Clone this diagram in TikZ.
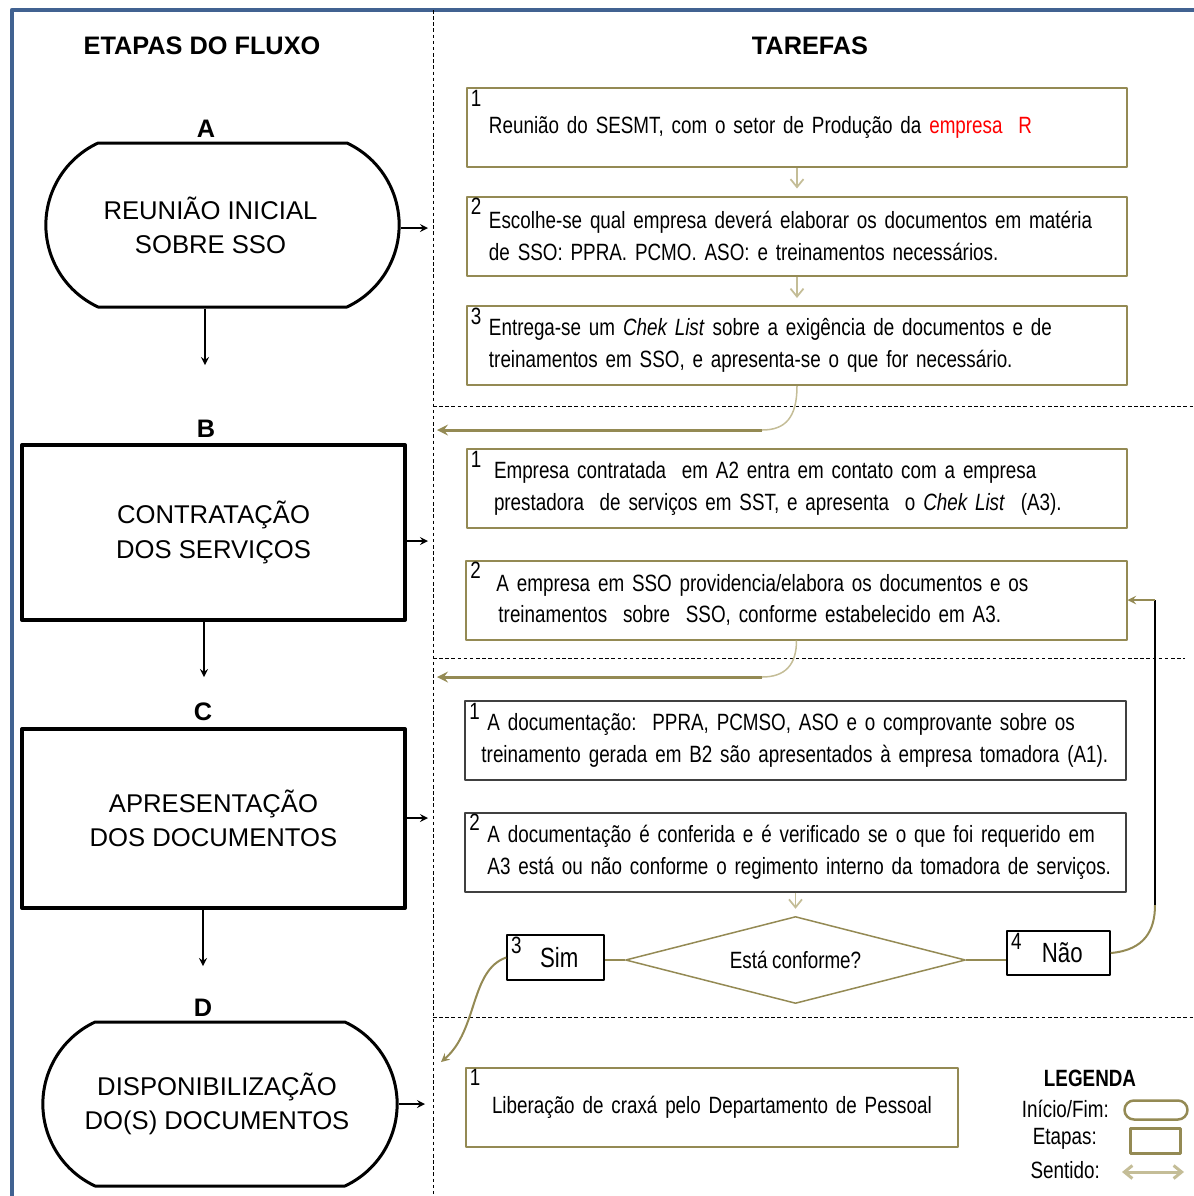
\documentclass[tikz,border=0pt]{standalone}
\usepackage{fontspec}
\setmainfont{Liberation Sans}
\newfontfamily\estreita[FakeStretch=0.8]{Liberation Sans}
\usetikzlibrary{shapes.geometric,shapes.misc,arrows.meta}
\definecolor{oliva}{RGB}{148,138,84}
\definecolor{caqui}{RGB}{196,189,151}
\definecolor{moldura}{RGB}{65,98,145}
\newcommand\fontetarefa{\estreita\fontsize{13.4}{18}\selectfont\fontdimen2\font=0.2em\relax}
\newcommand\fonteetapa{\fontsize{14.6}{19.5}\selectfont}
\newcommand\fontetitulo{\bfseries\fontsize{14.4}{17}\selectfont}

\begin{document}
\begin{tikzpicture}[x=0.2mm,y=-0.2mm,>=stealth,line join=round,
  titulo/.style={font=\fontetitulo},
  etapa/.style={draw,line width=0.8mm,minimum width=76.6mm,align=center,font=\fonteetapa},
  inicio/.style={draw,line width=0.6mm,rounded rectangle,rounded rectangle arc length=130,
    minimum width=73mm,minimum height=32.8mm,align=center,font=\fonteetapa},
  tarefa/.style={draw=oliva,line width=0.4mm,minimum height=15.8mm,inner xsep=4.4mm,
    text width=123.2mm,align=left,font=\fontetarefa},
  numero/.style={anchor=north west,inner xsep=0.9mm,inner ysep=0.5mm,font=\fontetarefa},
  passo/.style={caqui,line width=0.35mm,-{Straight Barb[length=1.6mm,width=2.6mm]},shorten >=1.4mm},
  volta/.style={oliva,line width=0.6mm,->},
  curva/.style={caqui,line width=0.3mm},
  seta/.style={line width=0.35mm,->},
  escolha/.style={draw,line width=0.3mm,font=\estreita\fontsize{15.8}{18}\selectfont}]
\useasboundingbox (0,0) rectangle (1194,1196);
% moldura e divisoes
\draw[moldura,line width=0.9mm] (12,1196) -- (12,10) -- (1194,10);
\draw[line width=0.2mm,dash pattern=on 2pt off 1.5pt] (433,10) -- (433,1196);
\foreach \y/\xf in {406/1194,658/1185,1017/1194}
  \draw[line width=0.2mm,dash pattern=on 2pt off 1.5pt] (433,\y) -- (\xf,\y);

\node[titulo] (tetapas) at (202,46) {ETAPAS DO FLUXO};
\node[titulo] (ttarefas) at (810,46) {TAREFAS};

% etapas
\node[titulo] (lA) at (206,129) {A};
\node[inicio] (A) at (222.5,225) {REUNIÃO INICIAL\hspace*{4.8mm}\\SOBRE SSO\hspace*{4.8mm}};
\node[titulo] (lB) at (206,429) {B};
\node[etapa,minimum height=35mm] (B) at (213.5,532.5) {CONTRATAÇÃO\\DOS SERVIÇOS};
\node[titulo] (lC) at (203,712) {C};
\node[etapa,minimum height=35.8mm] (C) at (213.5,818.5) {APRESENTAÇÃO\\DOS DOCUMENTOS};
\node[titulo] (lD) at (203,1008) {D};
\node[inicio,minimum width=73.2mm] (D) at (220,1104) {DISPONIBILIZAÇÃO\hspace*{1.2mm}\\DO(S) DOCUMENTOS\hspace*{1.2mm}};

\coordinate (A-dir) at (428,228);
\coordinate (B-dir) at (428,541);
\coordinate (C-dir) at (428,818);
\coordinate (D-dir) at (425,1104);
\coordinate (A-baixo) at (205,365);
\coordinate (B-baixo) at (204,677);
\coordinate (C-baixo) at (203,966);
\foreach \n in {A,B,C,D}
  \draw[seta] (\n.east |- \n-dir) -- (\n-dir);
\foreach \n in {A,B,C}
  \draw[seta] (\n.south -| \n-baixo) -- (\n-baixo);

% tarefas
\node[tarefa] (A1) at (797,127.5) {\mbox{Reunião do SESMT, com o setor de Produção da\ \textcolor{red}{empresa\ \ R}}};
\node[tarefa] (A2) at (797,236) {\mbox{Escolhe-se qual empresa deverá elaborar os documentos em matéria}\\\mbox{de SSO: PPRA. PCMO. ASO: e treinamentos necessários.}};
\node[tarefa] (A3) at (797,345.5) {\mbox{Entrega-se um \textit{Chek List} sobre a exigência de documentos e de}\\\mbox{treinamentos em SSO, e apresenta-se o que for necessário.}};
\node[tarefa] (B1) at (797,488.5) {\mbox{\hspace*{1mm}Empresa contratada\ \ em A2 entra em contato com a empresa}\\\mbox{\hspace*{1mm}prestadora\ \ de serviços em SST, e apresenta\ \ o \textit{Chek List}\ \ (A3).}};
\node[tarefa] (B2) at (796.5,600) {\mbox{\hspace*{1.6mm}A empresa em SSO providencia/elabora os documentos e os}\\\mbox{\hspace*{2mm}treinamentos\ \ sobre\ \ SSO, conforme estabelecido em A3.}};
\node[tarefa,draw=black!75] (C1) at (795.5,740.5) {\mbox{A documentação:\ \ PPRA, PCMSO, ASO e o comprovante sobre os}\\\mbox{\hspace*{-1.2mm}treinamento gerada em B2 são apresentados à empresa tomadora (A1).}};
\node[tarefa,draw=black!75] (C2) at (795.5,852) {\mbox{A documentação é conferida e é verificado se o que foi requerido em}\\\mbox{A3 está ou não conforme o regimento interno da tomadora de serviços.}};
\node[tarefa,text width=89.6mm] (D1) at (712,1107) {\mbox{\hspace*{0.8mm}Liberação de craxá pelo Departamento de Pessoal}};
\foreach \t/\k in {A1/1,A2/2,A3/3,B1/1,B2/2,C1/1,C2/2,D1/1}
  \node[numero] (n\t) at (\t.north west) {\k};

\draw[passo] (A1) -- (A2);
\draw[passo] (A2) -- (A3);

% retorno para a coluna das etapas
\coordinate (A-cur) at (762,430);
\coordinate (A-ret) at (437,430);
\draw[curva] (A3.south) .. controls (797,418) and (785,430) .. (A-cur);
\draw[volta] (A-cur) -- (A-ret);
\coordinate (B-cur) at (762,677);
\coordinate (B-ret) at (437,677);
\draw[curva] (B2.south) .. controls (796.5,665) and (785,677) .. (B-cur);
\draw[volta] (B-cur) -- (B-ret);

% decisao
\node[draw=oliva,line width=0.3mm,diamond,aspect=3.9,inner sep=0pt,minimum width=68mm,
  minimum height=17.4mm,font=\fontetarefa] (dec) at (795.5,960) {Está conforme?};
\draw[passo] (C2) -- (dec);
\node[escolha,minimum width=19.4mm,minimum height=9mm] (sim) at (555.5,957.5) {\hspace{1.5mm}Sim};
\node[numero] (nsim) at (sim.north west) {3};
\node[escolha,minimum width=20.6mm,minimum height=8.8mm] (nao) at (1058.5,953) {\hspace{1.5mm}Não};
\node[numero] (nnao) at (nao.north west) {4};
\draw[oliva,line width=0.3mm] (dec.west) -- (dec.west -| sim.east);
\draw[oliva,line width=0.3mm] (dec.east) -- (dec.east -| nao.west);

\coordinate (N-sobe) at (1155,905);
\coordinate (N-topo) at (1155,600);
\draw[oliva,line width=0.4mm] (nao.east) .. controls (1145,950) and (1155,930) .. (N-sobe);
\draw[line width=0.3mm] (N-sobe) -- (N-topo);
\draw[volta,line width=0.4mm] (N-topo) -- (B2.east);

\coordinate (S-fim) at (441,1062);
\draw[oliva,line width=0.4mm,->] (sim.west) .. controls (470,970) and (478,1030) .. (S-fim);

% legenda
\node[font=\estreita\bfseries\fontsize{13.4}{16}\selectfont] (leg) at (1090,1078) {LEGENDA};
\node[font=\fontetarefa,anchor=east] (leg-ini) at (1115,1109) {Início/Fim:};
\node[draw=oliva,line width=0.5mm,rounded rectangle,minimum width=12.6mm,minimum height=3.8mm,inner sep=0pt] (sim-ini) at (1156,1110) {};
\node[font=\fontetarefa,anchor=east] (leg-eta) at (1103,1139) {Etapas:};
\node[draw=oliva,line width=0.6mm,minimum width=10mm,minimum height=5mm,inner sep=0pt] (sim-eta) at (1155,1140.5) {};
\node[font=\fontetarefa,anchor=east] (leg-sen) at (1106,1170) {Sentido:};
\coordinate (sen1) at (1122,1172);
\coordinate (sen2) at (1184,1172);
\draw[caqui,line width=0.6mm,{Straight Barb[length=1.6mm,width=2.6mm]}-{Straight Barb[length=1.6mm,width=2.6mm]}] (sen1) -- (sen2);
\end{tikzpicture}
\end{document}
